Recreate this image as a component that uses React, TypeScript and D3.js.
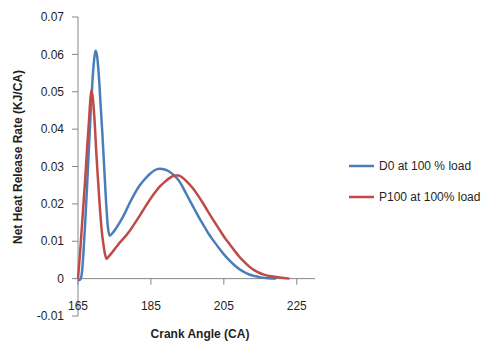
import React, { useEffect, useRef } from 'react';
import * as d3 from 'd3';

// crank angle (CA), heat release rate (KJ/CA)
const d0Angle = [165, 165.5, 166, 166.5, 167, 167.5, 168, 168.5, 169, 169.5, 169.8, 170.2, 170.7, 171.2, 171.7, 172.2, 172.7, 173.2, 173.7, 174.5, 175.6, 176.5, 178, 179.2, 180.5, 181.9, 183.3, 184.7, 186, 187.4, 188.8, 190.1, 191.5, 192.9, 194.2, 195.6, 197, 198.4, 199.8, 201.1, 202.5, 203.8, 205.2, 206.6, 208, 209.3, 210.7, 212, 213.4, 214.8, 216.2, 217.5, 219.3];
const d0Value = [-0.0003, -0.0004, 0.001, 0.007, 0.0155, 0.025, 0.035, 0.045, 0.0535, 0.0592, 0.061, 0.0598, 0.0545, 0.0465, 0.0385, 0.0295, 0.0205, 0.0138, 0.0115, 0.0122, 0.0137, 0.0151, 0.0178, 0.0203, 0.0227, 0.0249, 0.0266, 0.028, 0.029, 0.0294, 0.0292, 0.0286, 0.0275, 0.0259, 0.0236, 0.021, 0.0185, 0.016, 0.0137, 0.0116, 0.0097, 0.008, 0.0063, 0.0048, 0.0035, 0.0025, 0.0017, 0.0011, 0.0007, 0.0004, 0.0002, 0.0001, 0];

const p100Angle = [165, 165.5, 166, 166.5, 167, 167.5, 168, 168.4, 168.7, 169.1, 169.6, 170, 170.5, 171, 171.5, 172, 172.4, 172.8, 173.5, 174.5, 175.6, 176.5, 178, 179.2, 180.5, 181.9, 183.3, 184.7, 186, 187.4, 188.8, 190.1, 191.5, 192.6, 193.7, 195, 196.4, 197.8, 199.2, 200.5, 201.9, 203.8, 205.2, 206.6, 208, 209.3, 210.7, 212, 213.4, 214.8, 216.2, 217.5, 220.2, 223];
const p100Value = [0, 0.006, 0.013, 0.02, 0.027, 0.035, 0.042, 0.048, 0.0504, 0.048, 0.0414, 0.034, 0.0262, 0.019, 0.0129, 0.009, 0.0066, 0.0053, 0.006, 0.0072, 0.0086, 0.0097, 0.0113, 0.0128, 0.0147, 0.0168, 0.019, 0.0211, 0.0229, 0.0246, 0.0259, 0.0269, 0.0276, 0.0276, 0.027, 0.0258, 0.0243, 0.0224, 0.0203, 0.0182, 0.016, 0.0131, 0.011, 0.0092, 0.0074, 0.0058, 0.0044, 0.0032, 0.0022, 0.0015, 0.001, 0.0007, 0.0003, 0];

const xTicks = [165, 185, 205, 225];
const yTicks = [-0.01, 0, 0.01, 0.02, 0.03, 0.04, 0.05, 0.06, 0.07];

const seriesNames = ['D0 at 100 % load', 'P100 at 100% load'];
const seriesColors = ['#4A7EBB', '#BE4B48'];

const W = 485;
const H = 343;

export default function App() {
  const ref = useRef<SVGSVGElement>(null);

  useEffect(() => {
    const svg = d3.select(ref.current);
    svg.selectAll('*').remove();

    const font = '"Liberation Sans", Arial, sans-serif';
    const axisColor = '#868686';
    const textColor = '#1f1f1f';

    const x = d3.scaleLinear().domain([165, 230]).range([78, 315]);
    const y = d3.scaleLinear().domain([-0.01, 0.07]).range([316, 17]);

    svg.append('rect').attr('width', W).attr('height', H).attr('fill', '#fff');

    // y axis
    svg.append('line')
      .attr('x1', x(165)).attr('x2', x(165))
      .attr('y1', y(0.07)).attr('y2', y(-0.01))
      .attr('stroke', axisColor).attr('stroke-width', 1);

    svg.selectAll('.ytick')
      .data(yTicks)
      .enter().append('line')
      .attr('x1', x(165) - 6).attr('x2', x(165))
      .attr('y1', d => y(d)).attr('y2', d => y(d))
      .attr('stroke', axisColor);

    svg.selectAll('.ylab')
      .data(yTicks)
      .enter().append('text')
      .attr('x', 64)
      .attr('y', d => y(d))
      .attr('dy', '0.35em')
      .attr('text-anchor', 'end')
      .attr('font-family', font)
      .attr('font-size', 12)
      .attr('fill', textColor)
      .text(d => (d === 0 ? '0' : d3.format('.2f')(d).replace('\u2212', '-')));

    // x axis at zero
    svg.append('line')
      .attr('x1', x(165)).attr('x2', x(230))
      .attr('y1', y(0)).attr('y2', y(0))
      .attr('stroke', axisColor);

    svg.selectAll('.xtick')
      .data(xTicks)
      .enter().append('line')
      .attr('x1', d => x(d)).attr('x2', d => x(d))
      .attr('y1', y(0)).attr('y2', y(0) + 6)
      .attr('stroke', axisColor);

    svg.selectAll('.xlab')
      .data(xTicks)
      .enter().append('text')
      .attr('x', d => x(d))
      .attr('y', 310)
      .attr('text-anchor', 'middle')
      .attr('font-family', font)
      .attr('font-size', 12)
      .attr('fill', textColor)
      .text(d => d);

    // axis titles
    svg.append('text')
      .attr('x', 200).attr('y', 338)
      .attr('text-anchor', 'middle')
      .attr('font-family', font)
      .attr('font-size', 12)
      .attr('font-weight', 'bold')
      .attr('fill', textColor)
      .text('Crank Angle (CA)');

    svg.append('text')
      .attr('transform', 'translate(22,157) rotate(-90)')
      .attr('text-anchor', 'middle')
      .attr('font-family', font)
      .attr('font-size', 12)
      .attr('font-weight', 'bold')
      .attr('fill', textColor)
      .text('Net Heat Release Rate (KJ/CA)');

    // lines
    const line = d3.line<[number, number]>()
      .x(d => x(d[0]))
      .y(d => y(d[1]))
      .curve(d3.curveMonotoneX);

    const series = [
      d0Angle.map((a, i) => [a, d0Value[i]] as [number, number]),
      p100Angle.map((a, i) => [a, p100Value[i]] as [number, number]),
    ];

    series.forEach((s, i) => {
      svg.append('path')
        .datum(s)
        .attr('d', line)
        .attr('fill', 'none')
        .attr('stroke', seriesColors[i])
        .attr('stroke-width', 2.5)
        .attr('stroke-linejoin', 'round');
    });

    // legend
    const lg = svg.append('g');
    seriesNames.forEach((name, i) => {
      const ly = 166 + i * 31;
      lg.append('line')
        .attr('x1', 349).attr('x2', 374)
        .attr('y1', ly).attr('y2', ly)
        .attr('stroke', seriesColors[i])
        .attr('stroke-width', 2.5);
      lg.append('text')
        .attr('x', 379).attr('y', ly)
        .attr('dy', '0.35em')
        .attr('font-family', font)
        .attr('font-size', 12)
        .attr('fill', textColor)
        .text(name);
    });
  }, []);

  return (
    <div style={{ position: 'absolute', left: 0, top: 0 }}>
      <svg ref={ref} width={W} height={H} style={{ display: 'block' }}></svg>
    </div>
  );
}
